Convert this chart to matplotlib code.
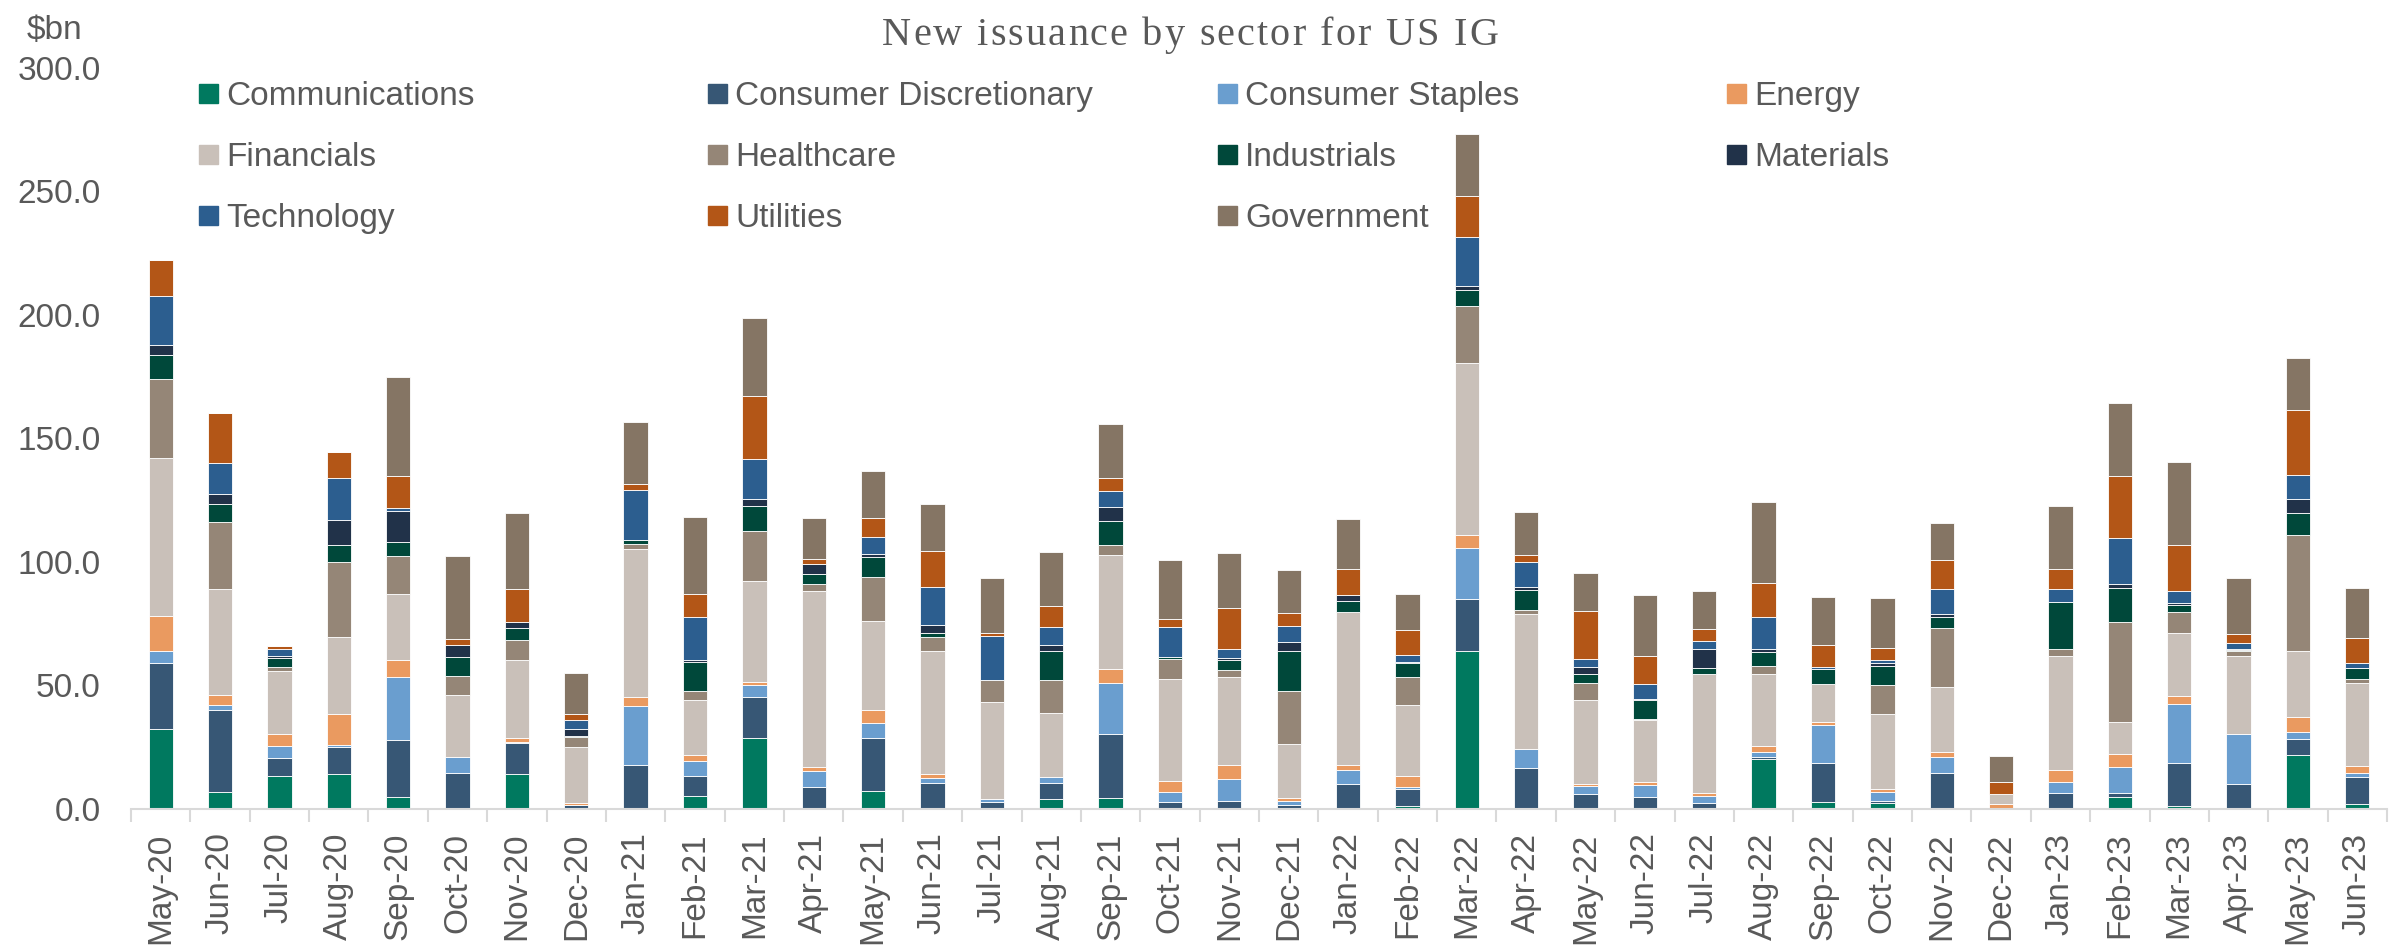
import matplotlib
matplotlib.use('Agg')
import matplotlib.pyplot as plt
import numpy as np
from matplotlib.patches import Rectangle

plt.rcParams['font.family'] = ['Liberation Sans', 'DejaVu Sans']

months = ["May-20", "Jun-20", "Jul-20", "Aug-20", "Sep-20", "Oct-20", "Nov-20", "Dec-20",
          "Jan-21", "Feb-21", "Mar-21", "Apr-21", "May-21", "Jun-21", "Jul-21", "Aug-21",
          "Sep-21", "Oct-21", "Nov-21", "Dec-21", "Jan-22", "Feb-22", "Mar-22", "Apr-22",
          "May-22", "Jun-22", "Jul-22", "Aug-22", "Sep-22", "Oct-22", "Nov-22", "Dec-22",
          "Jan-23", "Feb-23", "Mar-23", "Apr-23", "May-23", "Jun-23"]

communications = [32.2, 7.0, 13.5, 14.2, 4.9, 0, 14.2, 0, 0, 5.1, 28.7, 0.6, 7.3, 0, 0, 4.0,
                  4.6, 0, 0, 0, 0, 1.3, 64.1, 0, 0, 0, 0, 20.2, 2.7, 2.4, 0, 0,
                  0, 4.8, 1.2, 0, 22.0, 1.9]
consumer_discretionary = [26.9, 33.1, 7.2, 10.9, 23.0, 14.5, 12.4, 1.8, 18.0, 8.1, 16.6, 8.4,
                          21.5, 10.5, 2.8, 6.4, 25.7, 3.0, 3.4, 1.6, 10.2, 6.7, 20.8, 16.7,
                          6.1, 4.8, 2.4, 0.7, 16.0, 1.0, 14.5, 0, 6.4, 1.6, 17.5, 10.2, 6.4, 11.1]
consumer_staples = [4.9, 1.9, 4.8, 0.9, 25.4, 6.7, 0.6, 0, 23.6, 6.3, 4.8, 6.4, 6.0, 2.1, 1.2,
                    2.4, 20.8, 4.0, 8.8, 1.6, 5.5, 0.9, 20.8, 7.4, 3.3, 4.8, 2.8, 2.2, 15.4,
                    3.4, 6.6, 0, 4.5, 10.5, 23.8, 20.1, 2.7, 1.5]
energy = [14.1, 4.0, 4.9, 12.4, 7.0, 0, 1.5, 0.7, 3.7, 2.4, 1.3, 1.5, 5.4, 1.5, 0, 0, 5.5, 4.3,
          5.7, 1.2, 2.2, 4.5, 5.0, 0, 0.6, 1.5, 1.3, 2.5, 1.3, 1.3, 2.1, 2.2, 4.8, 5.5, 3.1, 0,
          6.0, 2.7]
financials = [64.0, 43.1, 25.6, 31.0, 26.6, 25.0, 31.4, 22.6, 59.7, 22.1, 41.0, 71.5, 35.8, 50.0,
              39.4, 25.9, 46.1, 41.4, 35.5, 22.1, 61.8, 28.8, 69.7, 54.8, 34.2, 25.1, 48.3, 28.9,
              15.0, 30.2, 26.2, 4.0, 46.4, 13.0, 25.7, 31.7, 26.9, 33.7]
healthcare = [31.7, 27.1, 1.6, 30.7, 15.6, 7.6, 8.2, 4.0, 2.1, 3.6, 20.2, 2.7, 18.0, 5.4, 8.7,
              13.6, 4.3, 7.9, 3.0, 21.2, 0, 11.3, 23.0, 1.7, 6.9, 0.4, 0, 3.4, 0, 11.7, 23.9, 0,
              2.7, 40.4, 8.5, 1.8, 46.8, 1.8]
industrials = [9.7, 7.2, 3.3, 6.7, 5.4, 7.8, 4.9, 0.6, 1.8, 11.8, 10.0, 4.0, 8.1, 1.8, 0, 11.7,
               9.7, 0.9, 4.0, 16.2, 4.3, 5.4, 6.5, 8.0, 3.5, 7.4, 2.2, 5.5, 6.4, 7.9, 4.5, 0,
               19.0, 13.6, 2.7, 0.4, 8.8, 4.2]
materials = [4.2, 4.2, 1.0, 10.0, 12.6, 4.6, 2.5, 2.8, 0, 1.0, 2.7, 3.9, 1.0, 3.1, 0, 2.4, 5.4,
             0, 0.6, 3.6, 2.4, 0.4, 1.5, 1.1, 3.0, 0.6, 7.6, 1.2, 0, 1.3, 1.2, 0, 0, 1.8, 1.0,
             0.4, 5.7, 0]
technology = [19.9, 12.3, 3.0, 17.1, 1.2, 0, 0, 3.6, 20.1, 17.4, 16.5, 0.3, 7.0, 15.4, 17.8, 7.2,
              6.7, 12.3, 3.9, 6.4, 0, 3.0, 19.9, 10.2, 3.0, 5.9, 3.2, 13.0, 0.6, 1.0, 10.0, 0,
              5.2, 18.4, 4.5, 2.5, 9.9, 2.1]
utilities = [14.5, 20.2, 1.2, 10.5, 12.9, 2.5, 13.3, 2.4, 2.4, 9.3, 25.3, 1.8, 7.6, 14.7, 1.5,
             8.5, 5.1, 3.0, 16.6, 5.4, 10.5, 10.0, 16.9, 3.0, 19.5, 11.3, 5.0, 13.9, 9.0, 5.1,
             11.7, 4.6, 8.2, 25.0, 18.7, 3.6, 26.2, 10.0]
government = [0, 0, 0, 0, 40.0, 33.5, 30.7, 16.5, 25.0, 31.1, 31.6, 16.5, 19.0, 19.0, 22.0, 21.8,
              21.7, 23.8, 22.1, 17.4, 20.5, 14.7, 24.9, 17.1, 15.2, 24.7, 15.2, 32.8, 19.2, 20.2,
              15.0, 10.8, 25.4, 29.5, 33.5, 22.6, 21.1, 20.5]

sectors = ["Communications", "Consumer Discretionary", "Consumer Staples", "Energy",
           "Financials", "Healthcare", "Industrials", "Materials",
           "Technology", "Utilities", "Government"]
series = [communications, consumer_discretionary, consumer_staples, energy, financials,
          healthcare, industrials, materials, technology, utilities, government]
colors = ["#00795F", "#375775", "#6A9ECF", "#EA9A60", "#C9C0B9", "#958677",
          "#00483A", "#213249", "#2C5E8F", "#B35617", "#857564"]

yticks = [0, 50, 100, 150, 200, 250, 300]
title = "New issuance by sector for US IG"

TXT = "#595959"
W, H = 2407, 949
fig = plt.figure(figsize=(W / 100, H / 100), dpi=100)
ax = fig.add_axes([131 / W, 1 - 809 / H, (2387 - 131) / W, (809 - 67.5) / H])

x = np.arange(len(months))
bottom = np.zeros(len(months))
for name, vals, c in zip(sectors, series, colors):
    v = np.array(vals, dtype=float)
    ax.bar(x, v, width=0.41, bottom=bottom, color=c, edgecolor='white',
           linewidth=0.6, label=name)
    bottom += v

ax.set_xlim(-0.5, len(months) - 0.5)
ax.set_ylim(0, 300)
ax.set_yticks(yticks)
ax.set_yticklabels([f"{v:.1f}" for v in yticks])
ax.set_xticks(x)
ax.set_xticklabels(months, rotation=90)
ax.set_xticks(np.arange(-0.5, len(months), 1.0), minor=True)
ax.tick_params(axis='x', which='major', length=0, pad=17, labelsize=24, labelcolor=TXT)
ax.tick_params(axis='x', which='minor', length=9, width=1.5, color='#D9D9D9')
ax.tick_params(axis='y', length=0, pad=22, labelsize=24, labelcolor=TXT)
for s in ['left', 'right', 'top']:
    ax.spines[s].set_visible(False)
ax.spines['bottom'].set_color('#D9D9D9')
ax.spines['bottom'].set_linewidth(1.5)

# unit label
fig.text(27 / W, 1 - 39 / H, "$bn", fontsize=24, color=TXT, ha='left', va='baseline')

# legend (row-wise like the reference)
col_marker_x = [199, 708, 1218, 1727]
row_y = [93, 154, 215]
for i, (name, c) in enumerate(zip(sectors, colors)):
    r, k = divmod(i, 4)
    xm = col_marker_x[k]
    yc = row_y[r]
    fig.add_artist(Rectangle((xm / W, 1 - (yc + 9.5) / H), 19 / W, 19 / H,
                             transform=fig.transFigure, color=c))
    fig.text((xm + 27) / W, 1 - (yc + 12) / H, name, fontsize=24, color=TXT,
             ha='left', va='baseline')

# letter-spaced serif title
renderer = fig.canvas.get_renderer()
tkw = dict(fontsize=29, color=TXT, family=['Liberation Serif', 'DejaVu Serif'])


def text_width(s):
    t = fig.text(0, 0, s, **tkw)
    w = t.get_window_extent(renderer=renderer).width
    t.remove()
    return w


wI = text_width("I")
natural = text_width(title)
target_left, target_right = 882, 1498
n = len(title)
sp = max(0.0, ((target_right - target_left) - natural) / (n - 1))
for i, ch in enumerate(title):
    if ch == ' ':
        continue
    adv = 0.0 if i == 0 else text_width(title[:i] + "I") - wI
    xp = target_left + adv + i * sp
    fig.text(xp / W, 1 - 45 / H, ch, ha='left', va='baseline', **tkw)

fig.savefig("out.png", dpi=100)
